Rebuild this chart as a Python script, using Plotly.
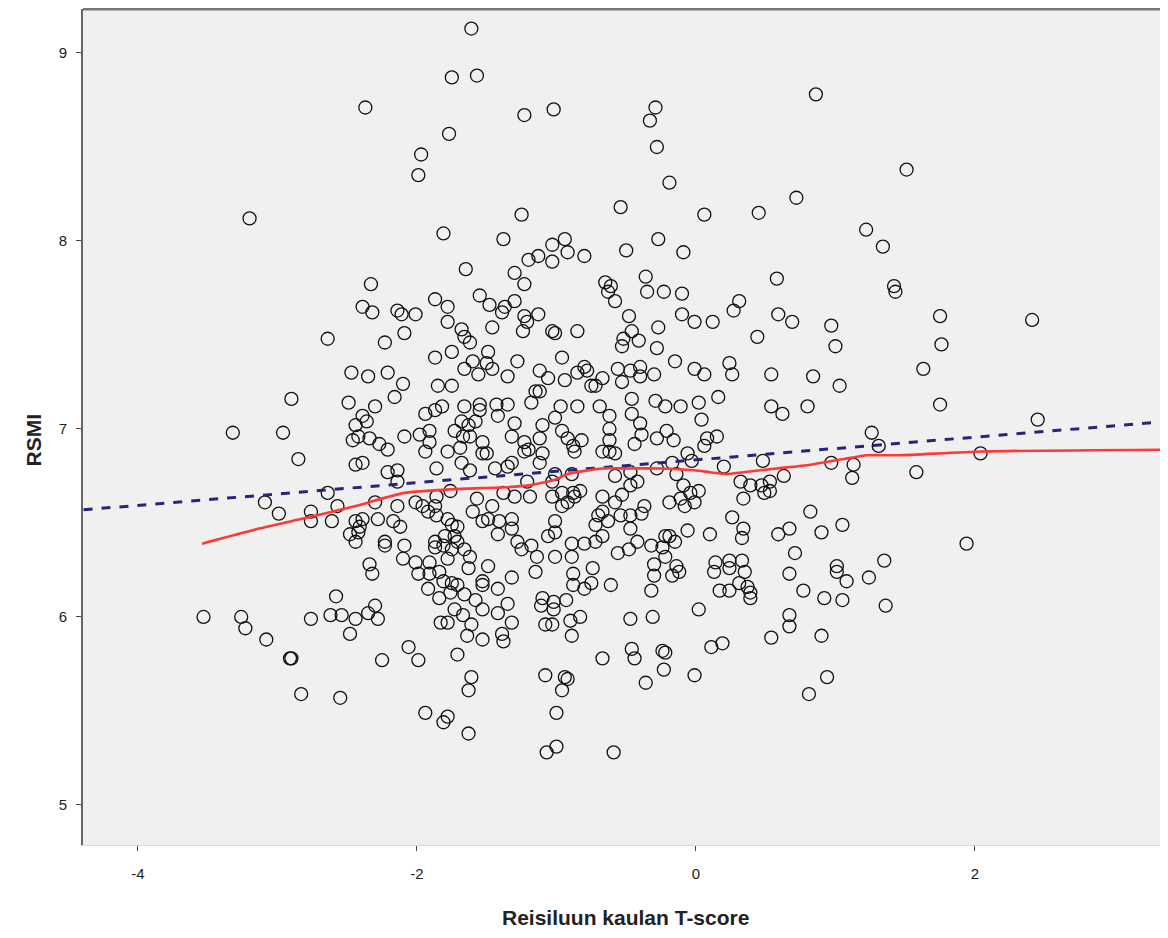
import plotly.graph_objects as go

# Scatter data (T-score, RSMI)
t_score = [
    -1.61, -1.75, -1.57, -2.37, -1.23, -1.02, -1.77, -1.97, -1.99, -0.29, -0.33, -0.28, -0.19, 0.86, 1.51,
    -3.20, -1.81, -1.25, -0.54, 0.06, 0.45, 0.72, 1.22, 1.34, 1.43, 1.75, 2.41, 1.76, 1.63, 1.75, 2.45,
    2.04, 1.58, 1.94, -0.27, -0.09, -0.36, 0.58, 1.42, -1.38, -1.03, -0.94, -0.92, -0.80, -1.13, -1.20,
    -1.03, -0.50, -1.65, -1.30, -1.23, -2.33, -0.65, -0.61,
    -2.64, -2.47, -2.90, -2.49, -3.32, -2.96, -2.46, -2.85, -2.44, -2.64, -3.09, -2.99, -2.76, -2.76, -2.61,
    -2.57, -2.48, -2.44, -2.44,
    -3.53, -3.26, -3.23, -3.08, -2.91, -2.90, -2.83, -2.55, -2.76, -2.58, -2.62, -2.54, -2.48, -2.44,
    -0.35, -0.23, -0.10, 0.31, 0.27, -0.10, -0.01, 0.12, 0.59, 0.69, 0.97, 1.00, -0.48, -0.46, -0.27, 0.44,
    -0.41, -0.28, -0.15, -0.01, 0.06, 0.24, 0.26, 0.54, 0.84, 1.03, -0.40, -0.47, -0.40, -0.30, -0.46, -0.29,
    -0.22, -0.11, 0.02, 0.16, 0.04, 0.54, 0.62, 0.80, -0.46, -0.40, -0.39, -0.28, -0.21, -0.16, -0.44, 0.08,
    0.15, 0.06, 1.26, 1.31, -0.06, -0.03, -0.17, -0.28, 0.20, 0.48, 0.97, 1.13, 1.12, -0.47, -0.42, -0.47,
    -0.14, 0.32, 0.39, 0.47, 0.53, 0.63, 0.49, 0.53, 0.34, -0.09, -0.04, 0.02, -0.11, -0.08, -0.01, -0.19,
    -0.37, -0.39, -0.47, 0.26, 0.82, 1.05, 0.67, 0.59, 0.90, 0.34, 0.33, 0.10, -0.06, -0.22, -0.19, -0.15,
    -0.32, -0.24, -0.22, -0.42, -0.47, -0.48, -0.30, -0.14, 0.14, 0.24, 0.33, 0.71, 1.01, 1.35,
    -0.30, -0.17, -0.12, 0.13, 0.24, 0.35, 0.67, 1.01, 1.08, 1.24, -0.32, 0.17, 0.24, 0.31, 0.37, 0.39,
    0.39, 0.77, 0.92, 1.05, 1.36, -0.47, -0.31, 0.02, 0.67, 0.67, 0.54, 0.90, -0.46, -0.44, -0.24, -0.22,
    -0.23, -0.36, -0.01, 0.11, 0.19, 0.94, 0.81,
    -2.32, -1.99, -1.91, -1.84, -1.81, -1.75, -1.71, -1.92, -1.84, -1.76, -1.66, -1.63, -1.53, -1.53, -1.42,
    -1.58, -1.53, -1.42, -1.35, -1.32, -1.15, -1.73, -1.67, -1.61, -1.64, -1.53, -1.39, -1.38, -1.32, -1.83,
    -1.78, -2.30, -2.35, -2.28, -2.06, -1.99, -2.25, -1.71, -1.61, -1.63, -1.94, -1.78, -1.81, -1.63, -1.10,
    -1.11, -1.02, -1.02, -0.93, -1.08, -1.03, -0.90, -0.83, -0.89, -0.88, -0.88, -0.80, -0.75, -0.74, -0.61,
    -0.67, -1.08, -0.94, -0.92, -0.96, -1.00, -1.00, -1.07, -0.59,
    -1.55, -1.48, -1.30, -1.37, -1.39, -1.23, -1.13, -1.87, -1.78, -2.39, -2.32, -2.14, -2.01, -2.11, -0.63,
    -0.58, -1.21, -1.24, -1.46, -1.78, -1.68, -1.66, -1.62, -2.09, -2.23, -1.03, -1.01, -0.85, -0.52, -1.87,
    -1.75, -1.49, -1.60, -1.50, -1.46, -1.66, -1.56, -1.28, -1.35, -0.96, -1.12, -1.06, -0.94, -0.85, -0.80,
    -0.78, -0.67, -0.53, -0.56, -0.53, -0.75, -0.72, -2.35, -2.21, -2.10, -1.85, -1.75, -2.16, -2.30, -1.15,
    -1.12, -1.18, -0.97, -0.85, -0.69, -0.62, -1.01, -1.66, -1.55, -1.55, -1.43, -1.35, -1.42, -1.82, -1.87,
    -1.94, -2.39, -2.36, -2.44, -2.42, -2.34, -2.27, -2.21, -2.09, -1.98, -1.91, -1.91, -1.94, -1.73, -1.68,
    -1.63, -1.58, -1.67, -1.62, -1.53, -1.30, -1.32, -1.23, -1.20, -1.23, -1.78, -1.69, -1.53, -1.50, -1.10,
    -1.12, -1.10, -0.96, -0.92, -0.88, -0.87, -0.82, -0.62, -0.62, -0.67, -0.62, -0.58, -2.39, -1.68, -1.86,
    -1.62, -1.35, -1.32, -1.12, -1.44, -2.21, -2.14, -2.14, -1.21, -1.03, -1.01, -0.89, -0.58, -2.30, -2.14,
    -2.01, -1.86, -1.76, -1.57, -1.38, -1.30, -1.19, -1.03, -0.96, -0.88, -0.83, -0.67, -0.53, -2.39, -2.41,
    -2.42, -2.28, -2.17, -2.12, -2.23, -2.23, -2.09, -1.96, -1.92, -1.87, -1.86, -1.78, -1.75, -1.71, -1.73,
    -1.80, -1.87, -1.87, -1.81, -1.75, -1.71, -1.66, -1.62, -1.60, -1.46, -1.53, -1.49, -1.41, -1.42, -1.32,
    -1.32, -1.28, -1.25, -1.18, -1.14, -1.06, -1.01, -1.01, -0.96, -0.92, -0.87, -1.01, -0.89, -0.80, -0.72,
    -0.67, -0.70, -0.72, -0.67, -0.63, -0.54, -0.58, -0.56, -0.89, -2.10, -2.01, -1.91, -1.78, -2.34, -1.49,
]
rsmi = [
    9.13, 8.87, 8.88, 8.71, 8.67, 8.70, 8.57, 8.46, 8.35, 8.71, 8.64, 8.50, 8.31, 8.78, 8.38,
    8.12, 8.04, 8.14, 8.18, 8.14, 8.15, 8.23, 8.06, 7.97, 7.73, 7.60, 7.58, 7.45, 7.32, 7.13, 7.05,
    6.87, 6.77, 6.39, 8.01, 7.94, 7.81, 7.80, 7.76, 8.01, 7.98, 8.01, 7.94, 7.92, 7.92, 7.90,
    7.89, 7.95, 7.85, 7.83, 7.77, 7.77, 7.78, 7.76,
    7.48, 7.30, 7.16, 7.14, 6.98, 6.98, 6.94, 6.84, 6.81, 6.66, 6.61, 6.55, 6.56, 6.51, 6.51,
    6.59, 6.44, 6.51, 6.40,
    6.00, 6.00, 5.94, 5.88, 5.78, 5.78, 5.59, 5.57, 5.99, 6.11, 6.01, 6.01, 5.91, 5.99,
    7.73, 7.73, 7.72, 7.68, 7.63, 7.61, 7.57, 7.57, 7.61, 7.57, 7.55, 7.44, 7.60, 7.52, 7.54, 7.49,
    7.47, 7.43, 7.36, 7.32, 7.29, 7.35, 7.29, 7.29, 7.28, 7.23, 7.33, 7.31, 7.28, 7.29, 7.16, 7.15,
    7.12, 7.12, 7.14, 7.17, 7.05, 7.12, 7.08, 7.12, 7.08, 7.03, 6.97, 6.95, 6.99, 6.94, 6.92, 6.95,
    6.96, 6.91, 6.98, 6.91, 6.87, 6.83, 6.82, 6.79, 6.80, 6.83, 6.82, 6.81, 6.74, 6.77, 6.72, 6.70,
    6.76, 6.72, 6.70, 6.70, 6.72, 6.75, 6.66, 6.67, 6.63, 6.70, 6.66, 6.67, 6.63, 6.59, 6.61, 6.61,
    6.59, 6.55, 6.54, 6.53, 6.56, 6.49, 6.47, 6.44, 6.45, 6.47, 6.42, 6.44, 6.46, 6.43, 6.43, 6.40,
    6.38, 6.37, 6.32, 6.40, 6.47, 6.36, 6.28, 6.27, 6.29, 6.30, 6.30, 6.34, 6.27, 6.30,
    6.22, 6.22, 6.24, 6.24, 6.26, 6.24, 6.23, 6.24, 6.19, 6.21, 6.14, 6.14, 6.14, 6.18, 6.16, 6.13,
    6.10, 6.14, 6.10, 6.09, 6.06, 5.99, 6.00, 6.04, 6.01, 5.95, 5.89, 5.90, 5.83, 5.78, 5.82, 5.81,
    5.72, 5.65, 5.69, 5.84, 5.86, 5.68, 5.59,
    6.23, 6.23, 6.23, 6.24, 6.19, 6.18, 6.17, 6.15, 6.10, 6.13, 6.12, 6.26, 6.17, 6.19, 6.15,
    6.09, 6.04, 6.02, 6.07, 6.21, 6.24, 6.04, 6.01, 5.96, 5.90, 5.88, 5.91, 5.87, 5.97, 5.97,
    5.97, 6.06, 6.02, 5.99, 5.84, 5.77, 5.77, 5.80, 5.68, 5.61, 5.49, 5.47, 5.44, 5.38, 6.10,
    6.06, 6.08, 6.04, 6.09, 5.96, 5.96, 5.98, 6.00, 5.90, 6.23, 6.17, 6.15, 6.18, 6.26, 6.17,
    5.78, 5.69, 5.68, 5.67, 5.61, 5.49, 5.31, 5.28, 5.28,
    7.71, 7.66, 7.68, 7.65, 7.62, 7.60, 7.61, 7.69, 7.65, 7.65, 7.62, 7.63, 7.61, 7.61, 7.73,
    7.68, 7.57, 7.52, 7.54, 7.57, 7.53, 7.49, 7.46, 7.51, 7.46, 7.52, 7.51, 7.52, 7.48, 7.38,
    7.41, 7.41, 7.36, 7.35, 7.32, 7.32, 7.29, 7.36, 7.28, 7.38, 7.31, 7.27, 7.26, 7.30, 7.33,
    7.31, 7.27, 7.44, 7.32, 7.25, 7.23, 7.23, 7.28, 7.30, 7.24, 7.23, 7.23, 7.17, 7.12, 7.20,
    7.20, 7.14, 7.12, 7.12, 7.12, 7.07, 7.06, 7.12, 7.13, 7.10, 7.13, 7.13, 7.07, 7.12, 7.10,
    7.08, 7.07, 7.04, 7.02, 6.96, 6.95, 6.92, 6.89, 6.96, 6.97, 6.99, 6.93, 6.88, 6.99, 7.04,
    7.02, 7.04, 6.96, 6.96, 6.93, 7.03, 6.96, 6.93, 6.89, 6.88, 6.88, 6.90, 6.87, 6.87, 7.02,
    6.95, 6.87, 6.99, 6.95, 6.91, 6.88, 6.94, 7.00, 6.94, 6.88, 6.88, 6.87, 6.82, 6.82, 6.79,
    6.78, 6.80, 6.82, 6.82, 6.79, 6.77, 6.78, 6.72, 6.72, 6.72, 6.76, 6.76, 6.75, 6.61, 6.59,
    6.61, 6.64, 6.67, 6.63, 6.66, 6.64, 6.64, 6.64, 6.66, 6.66, 6.67, 6.64, 6.65, 6.52, 6.48,
    6.45, 6.52, 6.51, 6.48, 6.40, 6.38, 6.38, 6.59, 6.56, 6.59, 6.54, 6.52, 6.49, 6.48, 6.43,
    6.43, 6.40, 6.37, 6.38, 6.36, 6.40, 6.36, 6.32, 6.56, 6.59, 6.51, 6.52, 6.51, 6.44, 6.52,
    6.47, 6.40, 6.36, 6.38, 6.32, 6.43, 6.45, 6.51, 6.59, 6.61, 6.64, 6.32, 6.39, 6.39, 6.40,
    6.43, 6.54, 6.49, 6.56, 6.51, 6.54, 6.61, 6.34, 6.32, 6.31, 6.29, 6.29, 6.31, 6.28, 6.27,
]

# Linear fit line (endpoints at the axis limits)
fit_x = [-4.39, 3.38]
fit_y = [6.57, 7.04]

# Loess line
loess_x = [-3.54, -3.13, -2.84, -2.44, -2.09, -1.73, -1.37, -1.20, -1.01, -0.92, -0.67, -0.49,
           -0.26, -0.01, 0.10, 0.22, 0.34, 0.58, 0.82, 1.06, 1.23, 1.46, 2.05, 3.38]
loess_y = [6.39, 6.47, 6.52, 6.59, 6.66, 6.68, 6.69, 6.70, 6.73, 6.76, 6.79, 6.79,
           6.79, 6.78, 6.77, 6.76, 6.77, 6.79, 6.81, 6.84, 6.86, 6.86, 6.88, 6.89]

x_ticks = [-4, -2, 0, 2]
y_ticks = [5, 6, 7, 8, 9]

fig = go.Figure()
fig.add_trace(go.Scatter(
    x=t_score, y=rsmi, mode="markers",
    marker=dict(symbol="circle-open", size=13, color="#111111", line=dict(width=1.3, color="#111111")),
    hoverinfo="skip", showlegend=False,
))
fig.add_trace(go.Scatter(
    x=fit_x, y=fit_y, mode="lines",
    line=dict(color="#262678", width=3, dash="dash"),
    showlegend=False, hoverinfo="skip",
))
fig.add_trace(go.Scatter(
    x=loess_x, y=loess_y, mode="lines",
    line=dict(color="#ff3838", width=2.6, shape="spline", smoothing=0.6),
    showlegend=False, hoverinfo="skip",
))

font_family = "Liberation Sans, Arial, sans-serif"
fig.update_layout(
    width=1160, height=930,
    margin=dict(l=75, r=0, t=1, b=93),
    paper_bgcolor="white", plot_bgcolor="#f0f0f0",
    font=dict(family=font_family, size=15, color="#222222"),
    xaxis=dict(
        range=[-4.394, 3.384], tickvals=x_ticks, ticktext=[str(v) for v in x_ticks],
        showgrid=False, zeroline=False, ticks="outside", ticklen=5, tickcolor="#444444",
        showline=True, linecolor="#d8d8d8", linewidth=1, ticklabelstandoff=10,
        tickfont=dict(size=15, color="#222222"),
    ),
    yaxis=dict(
        range=[4.787, 9.234], tickvals=y_ticks, ticktext=[str(v) for v in y_ticks],
        showgrid=False, zeroline=False, ticks="outside", ticklen=5, tickcolor="#444444",
        showline=True, linecolor="#666666", linewidth=2, ticklabelstandoff=6,
        tickfont=dict(size=15, color="#222222"),
    ),
    shapes=[dict(type="line", xref="paper", yref="paper", x0=0, x1=1, y0=1, y1=1,
                 line=dict(color="#777777", width=3))],
    annotations=[
        dict(text="<b>Reisiluun kaulan T-score</b>", xref="paper", yref="paper",
             x=0.5, y=-0.087, xanchor="center", yanchor="middle", showarrow=False,
             font=dict(size=21, color="#222222", family=font_family)),
        dict(text="<b>RSMI</b>", xref="paper", yref="paper", textangle=-90,
             x=-0.046, y=0.484, xanchor="center", yanchor="middle", showarrow=False,
             font=dict(size=21, color="#222222", family=font_family)),
    ],
)

fig.write_html("out.html")
